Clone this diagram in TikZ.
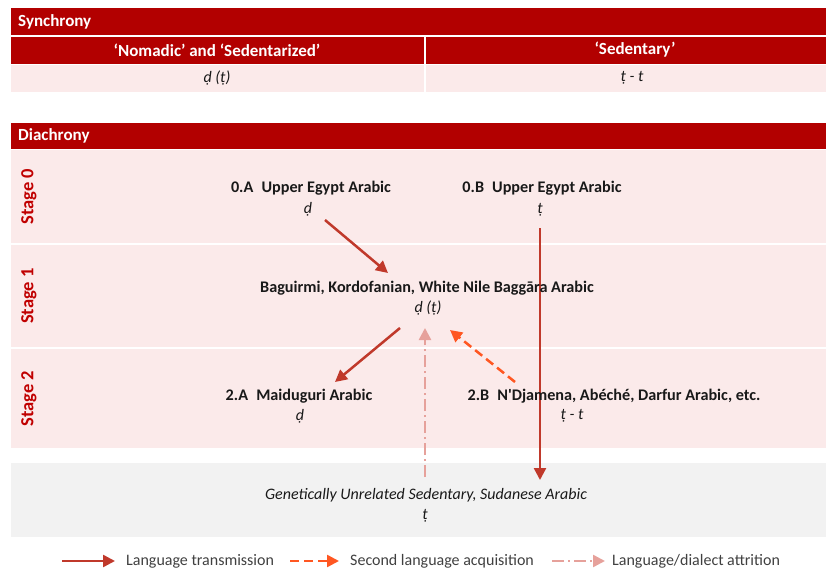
\documentclass[tikz,border=0pt]{standalone}
\usepackage{fontspec}
\setmainfont{Carlito}
\newfontfamily\straightfont{Carlito}
\usetikzlibrary{calc}
\usetikzlibrary{positioning}
\usetikzlibrary{arrows.meta}

\definecolor{hdrred}{HTML}{B20000}
\definecolor{bandpink}{HTML}{FBEAEA}
\definecolor{stagered}{HTML}{C00000}
\definecolor{transred}{HTML}{C0392B}
\definecolor{acqorange}{HTML}{FF5722}
\definecolor{attrpink}{HTML}{E6A19B}
\definecolor{bandgray}{HTML}{F2F2F2}

\begin{document}
\begin{tikzpicture}[x=1pt, y=-1pt, node distance=4pt, font=\fontsize{16}{19}\selectfont]
\tikzstyle{hdrbox}=[fill=hdrred, inner sep=0pt, anchor=north west]
\tikzstyle{band}=[fill=bandpink, inner sep=0pt, anchor=north west]
\tikzstyle{hdrtext}=[text=white, font=\fontsize{17}{19}\selectfont\bfseries, inner sep=0pt]
\tikzstyle{stagetext}=[text=stagered, font=\fontsize{18.5}{20}\selectfont\bfseries, rotate=90, inner sep=0pt]
\tikzstyle{lang}=[text=black!90, font=\fontsize{16.2}{19}\selectfont\bfseries, inner sep=0pt]
\tikzstyle{seg}=[text=black!90, font=\fontsize{16}{19}\selectfont\itshape, inner sep=0pt]
\tikzstyle{legtext}=[text=black!75, inner sep=0pt]
\tikzstyle{trans}=[draw=transred, line width=2.5pt, -{Triangle[length=12pt,width=12pt]}]
\tikzstyle{acq}=[draw=acqorange, line width=2.5pt, dash pattern=on 9pt off 5pt, -{Triangle[length=12pt,width=12pt]}]
\tikzstyle{attr}=[draw=attrpink, line width=2.5pt, dash pattern=on 12pt off 4pt on 2pt off 4pt, -{Triangle[length=12pt,width=12pt]}]

\useasboundingbox (0,0) rectangle (827,572);

% synchrony table
\node[hdrbox, minimum width=815, minimum height=27] (synhdr) at (11,8) {};
\node[hdrtext, right=7pt of synhdr.west] {Synchrony};
\node[hdrbox, minimum width=413, minimum height=27] (nomhdr) at (11,37) {};
\node[hdrbox, minimum width=400, minimum height=27] (sedhdr) at (426,37) {};
\node[hdrtext] at (217,50) {‘Nomadic’ and ‘Sedentarized’};
\node[hdrtext] at (635,50) {‘Sedentary’};
\node[band, minimum width=413, minimum height=27] (nomcell) at (11,65) {};
\node[band, minimum width=400, minimum height=27] (sedcell) at (426,65) {};
\node[seg] (nomseg) at (217,78) {ḍ (ṭ)};
\node[seg] (sedseg) at (632,78) {ṭ - t};

% diachrony bands
\node[hdrbox, minimum width=815, minimum height=26] (diahdr) at (11,123) {};
\node[hdrtext, right=7pt of diahdr.west] {Diachrony};
\node[band, minimum width=815, minimum height=93] (st0) at (11,150) {};
\node[band, minimum width=815, minimum height=102] (st1) at (11,245) {};
\node[band, minimum width=815, minimum height=99] (st2) at (11,349) {};
\node[band, fill=bandgray, minimum width=815, minimum height=74] (unrel) at (11,463) {};

\node[stagetext] (s0lab) at ($(st0.west)+(18,0)$) {Stage 0};
\node[stagetext] (s1lab) at ($(st1.west)+(18,0)$) {Stage 1};
\node[stagetext] (s2lab) at ($(st2.west)+(18,0)$) {Stage 2};

% connectors
\coordinate (a0out) at (325,220);
\coordinate (b1in) at (388,273);
\coordinate (b0out) at (540,228);
\coordinate (gin) at (540,480);
\coordinate (b1out) at (400,328);
\coordinate (a2in) at (335,382);
\coordinate (b2out) at (515,382);
\coordinate (b1acq) at (450,330);
\coordinate (gout) at (425,477);
\coordinate (b1attr) at (425,328);

\draw[trans] (a0out) -- (b1in);
\draw[trans] (b0out) -- (gin);
\draw[trans] (b1out) -- (a2in);
\draw[acq] (b2out) -- (b1acq);
\draw[attr] (gout) -- (b1attr);

% varieties
\node[lang] (a0) at (311,188) {0.A\hspace{0.5em}Upper Egypt Arabic};
\node[seg] (a0s) at (308,209) {ḍ};
\node[lang] (b0) at (542,188) {0.B\hspace{0.5em}Upper Egypt Arabic};
\node[seg] (b0s) at (540,210) {ṭ};
\node[lang] (b1) at (427,288) {Baguirmi, Kordofanian, White Nile Baggāra Arabic};
\node[seg] (b1s) at (428,308) {ḍ (ṭ)};
\node[lang] (a2) at (299,396) {2.A\hspace{0.5em}Maiduguri Arabic};
\node[seg] (a2s) at (300,416) {ḍ};
\node[lang] (b2) at (614,396) {2.B\hspace{0.5em}N{\straightfont '}Djamena, Abéché, Darfur Arabic, etc.};
\node[seg] (b2s) at (572,416) {ṭ - t};
\node[seg] (g) at (426,495) {Genetically Unrelated Sedentary, Sudanese Arabic};
\node[seg] (gs) at (425,516) {ṭ};

% legend
\coordinate (l1a) at (62,561);
\coordinate (l1b) at (115,561);
\coordinate (l2a) at (290,561);
\coordinate (l2b) at (339,561);
\coordinate (l3a) at (552,561);
\coordinate (l3b) at (605,561);
\draw[trans] (l1a) -- (l1b);
\draw[acq] (l2a) -- (l2b);
\draw[attr] (l3a) -- (l3b);
\node[legtext, right=11pt of l1b] (l1t) {Language transmission};
\node[legtext, right=11pt of l2b] (l2t) {Second language acquisition};
\node[legtext, right=7pt of l3b] (l3t) {Language/dialect attrition};
\end{tikzpicture}
\end{document}
